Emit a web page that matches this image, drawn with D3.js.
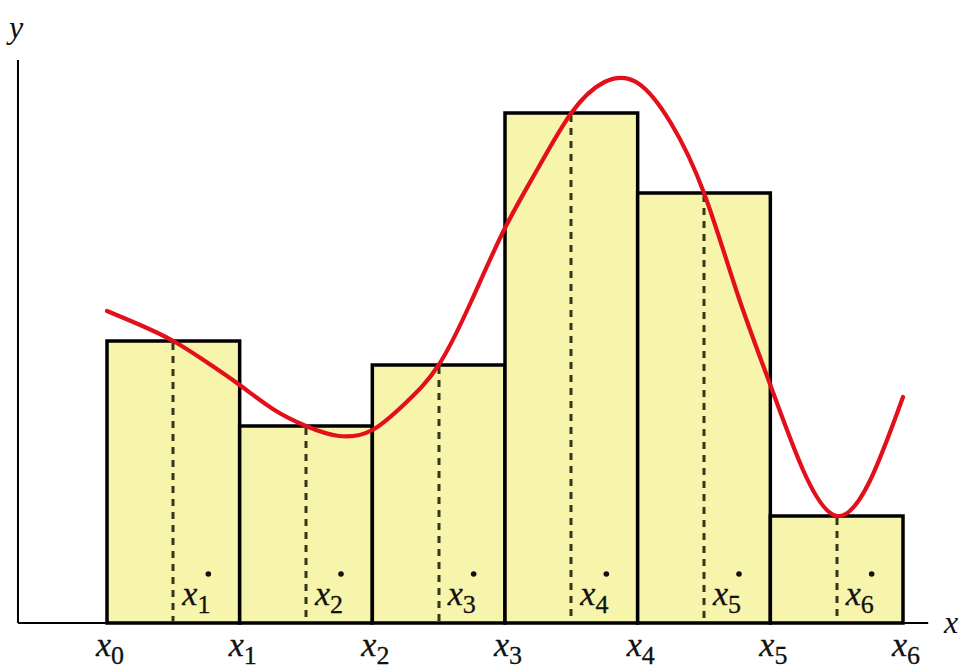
<!DOCTYPE html>
<html><head><meta charset="utf-8">
<script src="https://cdn.jsdelivr.net/npm/d3@7"></script>
<style>body{margin:0;background:#fff}svg{display:block}</style>
</head><body>
<svg id="chart" width="962" height="671"></svg>
<script>
// Data
const edgeLabels = ["0","1","2","3","4","5","6"];      // x_i partition points
const edges = [0,1,2,3,4,5,6];
const sampleLabels = ["1","2","3","4","5","6"];        // x*_i sample points
const samples = [0.5,1.5,2.5,3.5,4.5,5.5];
const barHeights = [2.82,1.97,2.58,5.10,4.30,1.07];    // f(x*_i)
const curveX = [0,0.25,0.5,0.75,1.0,1.25,1.5,1.75,2.0,2.25,2.5,2.75,3.0,3.25,3.5,3.75,4.0,4.25,4.5,4.75,5.0,5.25,5.5,5.75,6.0];
const curveY = [3.12,2.98,2.82,2.61,2.38,2.14,1.97,1.87,1.93,2.2,2.58,3.23,3.95,4.55,5.10,5.41,5.40,5.0,4.30,3.3,2.38,1.52,1.07,1.42,2.26];

const svg = d3.select("#chart");
const x = d3.scaleLinear().domain([0,6]).range([107,903]);
const y = d3.scaleLinear().domain([0,5.65]).range([623,58]);
const xMin = -0.671, xMax = 6.19;

// bars
svg.append("g").selectAll("rect").data(barHeights).join("rect")
  .attr("x",(d,i)=>x(edges[i]))
  .attr("y",d=>y(d))
  .attr("width",(d,i)=>x(edges[i+1])-x(edges[i]))
  .attr("height",d=>y(0)-y(d))
  .attr("fill","#f7f4ab")
  .attr("stroke","#000").attr("stroke-width",3.5);

// dashed lines at sample points
svg.append("g").selectAll("line").data(samples).join("line")
  .attr("x1",d=>Math.round(x(d))).attr("x2",d=>Math.round(x(d)))
  .attr("y1",(d,i)=>y(barHeights[i])+2).attr("y2",y(0))
  .attr("stroke","#36361a").attr("stroke-width",3)
  .attr("stroke-dasharray","7,6");

// axes
svg.append("line").attr("x1",x(xMin)).attr("x2",x(xMax)).attr("y1",y(0)).attr("y2",y(0))
  .attr("stroke","#000").attr("stroke-width",2);
svg.append("line").attr("x1",x(xMin)).attr("x2",x(xMin)).attr("y1",y(0)).attr("y2",y(5.63))
  .attr("stroke","#000").attr("stroke-width",2);

// curve
const pts = curveX.map((d,i)=>[d,curveY[i]]);
svg.append("path").datum(pts)
  .attr("d", d3.line().x(d=>x(d[0])).y(d=>y(d[1])).curve(d3.curveNatural))
  .attr("fill","none").attr("stroke","#e3101c").attr("stroke-width",4.2)
  .attr("stroke-linecap","round");

const font = "'Liberation Serif','Times New Roman',serif";
function subLabel(g, px, py, sub){
  const t = g.append("text").attr("x",px).attr("y",py)
    .attr("font-family",font).attr("font-size",34).attr("fill","#111")
    .attr("stroke","#111").attr("stroke-width",0.3);
  t.append("tspan").attr("font-style","italic").text("x");
  t.append("tspan").attr("font-size",26).attr("dy",8).text(sub);
  return t;
}
// bottom partition labels
const gb = svg.append("g");
edges.forEach((e,i)=>subLabel(gb, x(e)-11, 656, edgeLabels[i]));
// inner sample labels
const gi = svg.append("g");
samples.forEach((s,i)=>{
  subLabel(gi, x(s)+9, 605, sampleLabels[i]);
  gi.append("circle").attr("cx",x(s)+35).attr("cy",574).attr("r",2.8).attr("fill","#111");
});
// axis titles
svg.append("text").attr("x",9).attr("y",38).attr("font-family",font).attr("font-style","italic")
  .attr("font-size",32).attr("fill","#111").text("y");
svg.append("text").attr("x",944).attr("y",633).attr("font-family",font).attr("font-style","italic")
  .attr("font-size",32).attr("fill","#111").text("x");
</script>
</body></html>
